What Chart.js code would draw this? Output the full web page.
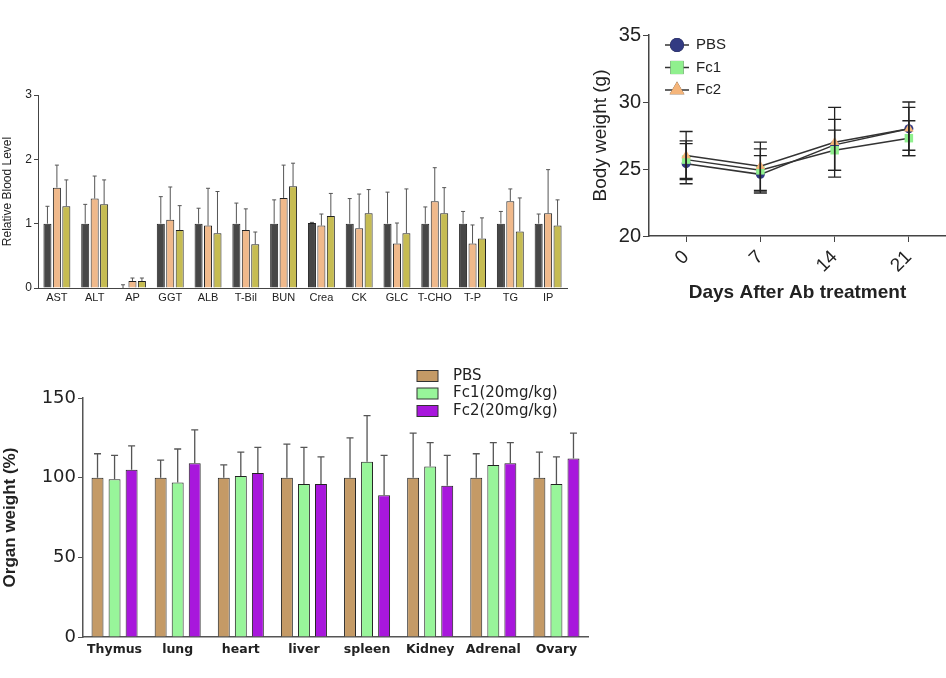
<!DOCTYPE html>
<html>
<head>
<meta charset="utf-8">
<script src="https://cdn.jsdelivr.net/npm/chart.js@4"></script>
<style>
  body { margin: 0; background: #fff; width: 946px; height: 678px; position: relative; overflow: hidden; }
  canvas { position: absolute; }
  #blood { left: 0; top: 80px; }
  #body { left: 580px; top: 20px; }
  #organ { left: 0; top: 360px; }
</style>
</head>
<body>
<canvas id="blood" width="580" height="230"></canvas>
<canvas id="body" width="366" height="290"></canvas>
<canvas id="organ" width="600" height="310"></canvas>
<script>
// blood chemistry (relative to PBS)
const bloodLabels = ['AST', 'ALT', 'AP', 'GGT', 'ALB', 'T-Bil', 'BUN', 'Crea', 'CK', 'GLC', 'T-CHO', 'T-P', 'TG', 'IP'];
const bloodPBS = [1, 1, 0, 1, 1, 1, 1, 1.01, 1, 1, 1, 1, 1, 1];
const bloodPBSErr = [0.27, 0.30, 0.05, 0.42, 0.24, 0.32, 0.37, 0.01, 0.39, 0.49, 0.26, 0.19, 0.19, 0.15];
const bloodFc1 = [1.56, 1.39, 0.11, 1.06, 0.97, 0.90, 1.40, 0.97, 0.93, 0.69, 1.35, 0.69, 1.35, 1.16];
const bloodFc1Err = [0.35, 0.35, 0.045, 0.51, 0.58, 0.33, 0.51, 0.18, 0.53, 0.32, 0.52, 0.29, 0.19, 0.68];
const bloodFc2 = [1.27, 1.30, 0.11, 0.90, 0.85, 0.68, 1.58, 1.12, 1.16, 0.85, 1.16, 0.77, 0.88, 0.97];
const bloodFc2Err = [0.41, 0.38, 0.045, 0.38, 0.65, 0.19, 0.36, 0.35, 0.37, 0.69, 0.40, 0.32, 0.52, 0.40];

// body weight
const days = ['0', '7', '14', '21'];
const bwPBS = [25.4, 24.6, 26.8, 28.0];
const bwPBSErr = [1.5, 1.4, 1.9, 1.6];
const bwFc1 = [25.7, 24.9, 26.4, 27.3];
const bwFc1Err = [1.4, 1.6, 1.5, 1.3];
const bwFc2 = [26.0, 25.2, 27.0, 28.0];
const bwFc2Err = [1.8, 1.8, 2.6, 2.0];

// organ weight (% of PBS)
const organLabels = ['Thymus', 'lung', 'heart', 'liver', 'spleen', 'Kidney', 'Adrenal', 'Ovary'];
const orgPBS = [100, 100, 100, 100, 100, 100, 100, 100];
const orgPBSErr = [15, 11, 8, 21, 25, 28, 15, 16];
const orgFc1 = [99, 97, 101, 96, 110, 107, 108, 96];
const orgFc1Err = [15, 21, 15, 23, 29, 15, 14, 17];
const orgFc2 = [105, 109, 103, 96, 89, 95, 109, 112];
const orgFc2Err = [15, 21, 16, 17, 25, 19, 13, 16];

const FONT = "'Liberation Sans', Arial, sans-serif";
const WIDE = "'DejaVu Sans', sans-serif";
Chart.defaults.font.family = FONT;
Chart.defaults.color = '#222';

// error bars, drawn from dataset.err through the y scale
const errorBars = {
  id: 'errorBars',
  afterDatasetsDraw(chart, args, opts) {
    const ctx = chart.ctx;
    const y = chart.scales.y;
    ctx.save();
    ctx.strokeStyle = opts.color || '#333';
    ctx.lineWidth = opts.width || 1;
    chart.data.datasets.forEach((ds, i) => {
      const meta = chart.getDatasetMeta(i);
      meta.data.forEach((el, j) => {
        const v = ds.data[j], e = ds.err[j];
        const top = y.getPixelForValue(v + e);
        const bot = opts.both ? y.getPixelForValue(v - e) : y.getPixelForValue(v);
        const x = el.x, c = opts.cap || 3;
        ctx.beginPath();
        ctx.moveTo(x, bot); ctx.lineTo(x, top);
        ctx.moveTo(x - c, top); ctx.lineTo(x + c, top);
        if (opts.both) { ctx.moveTo(x - c, bot); ctx.lineTo(x + c, bot); }
        ctx.stroke();
      });
    });
    ctx.restore();
  }
};

// small legend placed freely on the canvas
const freeLegend = {
  id: 'freeLegend',
  afterDraw(chart, args, opts) {
    const ctx = chart.ctx;
    ctx.save();
    ctx.font = opts.font;
    ctx.textBaseline = 'middle';
    chart.data.datasets.forEach((ds, i) => {
      const yy = opts.y + i * opts.gap;
      if (opts.type === 'box') {
        ctx.fillStyle = ds.backgroundColor;
        ctx.strokeStyle = '#333';
        ctx.lineWidth = 1;
        ctx.fillRect(opts.x, yy - 5.5, 21, 11);
        ctx.strokeRect(opts.x, yy - 5.5, 21, 11);
        ctx.fillStyle = '#222';
        ctx.fillText(ds.label, opts.x + 36, yy);
      } else {
        ctx.strokeStyle = ds.borderColor;
        ctx.lineWidth = 1.5;
        ctx.beginPath(); ctx.moveTo(opts.x - 12, yy); ctx.lineTo(opts.x + 12, yy); ctx.stroke();
        Chart.helpers.drawPoint(ctx, {
          pointStyle: ds.pointStyle, radius: ds.pointRadius * opts.grow, rotation: 0, borderWidth: 0
        }, opts.x, yy);
        ctx.fillStyle = ds.pointBackgroundColor;
        ctx.fill();
        ctx.fillStyle = '#222';
        ctx.fillText(ds.label, opts.x + 19, yy);
      }
    });
    ctx.restore();
  }
};

function barSet(label, data, err, color) {
  return { label, data, err, backgroundColor: color, borderColor: '#222', borderWidth: 1 };
}

new Chart(document.getElementById('blood'), {
  type: 'bar',
  data: {
    labels: bloodLabels,
    datasets: [
      barSet('PBS', bloodPBS, bloodPBSErr, '#474747'),
      barSet('Fc1', bloodFc1, bloodFc1Err, '#f0b98b'),
      barSet('Fc2', bloodFc2, bloodFc2Err, '#c6bc52')
    ]
  },
  options: {
    responsive: false,
    animation: false,
    layout: { padding: { top: 15, right: 13, bottom: 0, left: 0 } },
    categoryPercentage: 0.75,
    barPercentage: 0.85,
    plugins: {
      legend: { display: false },
      tooltip: { enabled: false },
      errorBars: { color: '#555', width: 1, cap: 2 }
    },
    scales: {
      x: {
        grid: { display: false, drawTicks: false, tickLength: 0 },
        border: { color: '#444' },
        ticks: { font: { size: 11 }, padding: 3, maxRotation: 0, autoSkip: false },
        afterFit: s => { s.height = 22; }
      },
      y: {
        min: 0, max: 3,
        grid: { drawOnChartArea: false, tickLength: 4, color: '#444' },
        border: { color: '#444' },
        ticks: { stepSize: 1, font: { size: 12 }, padding: 2 },
        title: { display: true, text: 'Relative Blood Level', font: { size: 12 }, padding: { top: 0, bottom: 0 } },
        afterFit: s => { s.width = 38; }
      }
    }
  },
  plugins: [errorBars]
});

function lineSet(label, data, err, style, color, r, order) {
  return {
    label, data, err, order,
    borderColor: '#333', borderWidth: 1.5,
    pointStyle: style, pointRadius: r, pointBackgroundColor: color,
    pointBorderColor: color, pointBorderWidth: 0, backgroundColor: color
  };
}

new Chart(document.getElementById('body'), {
  type: 'line',
  data: {
    labels: days,
    datasets: [
      lineSet('PBS', bwPBS, bwPBSErr, 'circle', '#323a82', 4.5, 3),
      lineSet('Fc1', bwFc1, bwFc1Err, 'rect', '#90f08e', 6, 2),
      lineSet('Fc2', bwFc2, bwFc2Err, 'triangle', '#f5b57a', 5.5, 1)
    ]
  },
  options: {
    responsive: false,
    animation: false,
    layout: { autoPadding: false, padding: { top: 15, right: 0, bottom: 6, left: 0 } },
    plugins: {
      legend: { display: false },
      tooltip: { enabled: false },
      errorBars: { color: '#222', width: 1.3, cap: 6.5, both: true },
      freeLegend: { type: 'line', x: 97, y: 25, gap: 22.5, grow: 1.55, font: '15px ' + FONT }
    },
    scales: {
      x: {
        offset: true,
        grid: { drawOnChartArea: false, tickLength: 6, color: '#444' },
        border: { color: '#444', width: 1.5 },
        ticks: { font: { size: 19 }, minRotation: 45, maxRotation: 45, padding: 4 },
        title: { display: true, text: 'Days After Ab treatment', font: { size: 19, weight: 'bold' }, padding: { top: 0, bottom: 0 } },
        afterFit: s => { s.height = 68; s.paddingRight = 0; s.paddingLeft = 0; }
      },
      y: {
        min: 20, max: 35,
        grid: { drawOnChartArea: false, tickLength: 6, color: '#444' },
        border: { color: '#444', width: 1.5 },
        ticks: { stepSize: 5, font: { size: 20 }, padding: 2 },
        title: { display: true, text: 'Body weight (g)', font: { size: 19 }, padding: { top: 9, bottom: 0 } },
        afterFit: s => { s.width = 69; }
      }
    }
  },
  plugins: [errorBars, freeLegend]
});

new Chart(document.getElementById('organ'), {
  type: 'bar',
  data: {
    labels: organLabels,
    datasets: [
      barSet('PBS', orgPBS, orgPBSErr, '#c49a66'),
      barSet('Fc1(20mg/kg)', orgFc1, orgFc1Err, '#98f59a'),
      barSet('Fc2(20mg/kg)', orgFc2, orgFc2Err, '#a817dc')
    ]
  },
  options: {
    responsive: false,
    animation: false,
    layout: { padding: { top: 38, right: 12, bottom: 0, left: 0 } },
    categoryPercentage: 0.81,
    barPercentage: 0.7,
    plugins: {
      legend: { display: false },
      tooltip: { enabled: false },
      errorBars: { color: '#555', width: 1.3, cap: 3.5 },
      freeLegend: { type: 'box', x: 417, y: 16, gap: 17.5, font: '15px ' + WIDE }
    },
    scales: {
      x: {
        grid: { display: false, drawTicks: false, tickLength: 0 },
        border: { color: '#555', width: 1.5 },
        ticks: { font: { family: WIDE, size: 12.5, weight: 'bold' }, padding: 5, maxRotation: 0, autoSkip: false },
        afterFit: s => { s.height = 33; }
      },
      y: {
        min: 0, max: 150,
        grid: { drawOnChartArea: false, tickLength: 5, color: '#555' },
        border: { color: '#555', width: 1.5 },
        ticks: { stepSize: 50, font: { family: WIDE, size: 18 }, padding: 2 },
        title: { display: true, text: 'Organ weight (%)', font: { size: 17, weight: 'bold' }, padding: { top: 0, bottom: 0 } },
        afterFit: s => { s.width = 83; }
      }
    }
  },
  plugins: [errorBars, freeLegend]
});
</script>
</body>
</html>
